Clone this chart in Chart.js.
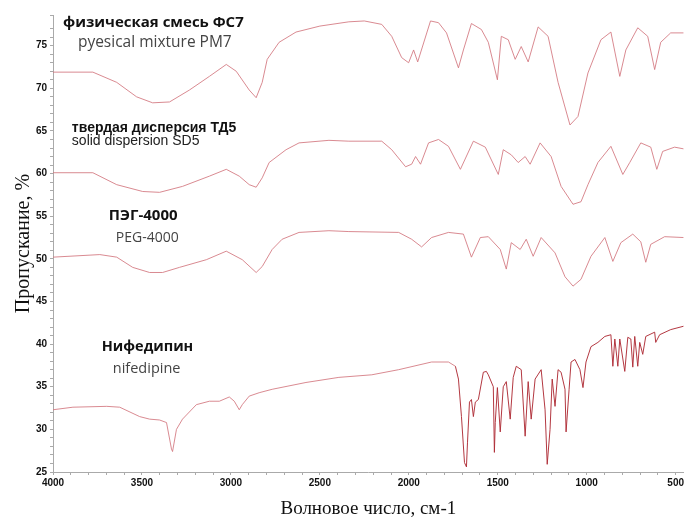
<!DOCTYPE html>
<html>
<head>
<meta charset="utf-8">
<script src="https://cdn.jsdelivr.net/npm/chart.js@4.4.1/dist/chart.umd.min.js"></script>
<style>
  html, body { margin: 0; padding: 0; background: #fff; }
  #wrap { width: 686px; height: 520px; }
</style>
</head>
<body>
<div id="wrap"><canvas id="ir" width="686" height="520"></canvas></div>
<script>
// wavenumbers (cm-1) and transmittance (%)
const wnPM7 = [4000, 3776, 3642, 3530, 3440, 3345, 3233, 3121, 3026, 2970, 2897, 2858, 2824, 2796, 2729, 2634, 2500, 2337, 2250, 2152, 2096, 2040, 2001, 1973, 1950, 1878, 1833, 1788, 1721, 1693, 1648, 1592, 1553, 1502, 1480, 1441, 1402, 1368, 1329, 1273, 1217, 1161, 1094, 1049, 993, 920, 864, 814, 780, 713, 657, 618, 584, 528, 455];
const tPM7 = [71.9, 71.9, 70.7, 69.0, 68.3, 68.4, 69.8, 71.4, 72.8, 72.0, 69.8, 68.9, 70.7, 73.4, 75.4, 76.6, 77.3, 77.8, 77.9, 77.5, 76.1, 73.6, 73.0, 74.5, 73.1, 77.9, 77.7, 76.5, 72.4, 74.5, 77.6, 76.9, 75.4, 71.0, 76.1, 75.7, 73.4, 74.9, 73.1, 77.2, 76.1, 70.7, 65.7, 66.7, 71.8, 75.7, 76.6, 71.4, 74.5, 77.1, 76.1, 72.2, 75.4, 76.5, 76.5];

const wnSD5 = [4000, 3776, 3642, 3496, 3401, 3272, 3121, 3026, 2953, 2897, 2858, 2824, 2785, 2690, 2617, 2449, 2337, 2152, 2096, 2018, 1984, 1962, 1934, 1889, 1833, 1777, 1710, 1637, 1570, 1497, 1469, 1424, 1385, 1346, 1318, 1262, 1200, 1144, 1077, 1032, 993, 937, 864, 797, 758, 696, 640, 606, 573, 506, 455];
const tSD5 = [60.1, 60.1, 58.7, 57.9, 57.8, 58.5, 59.7, 60.5, 59.7, 58.7, 58.4, 59.5, 61.3, 62.8, 63.6, 63.9, 63.8, 63.8, 62.8, 60.8, 61.1, 62.0, 61.1, 63.6, 64.0, 63.2, 60.5, 63.8, 63.1, 59.9, 62.8, 62.2, 61.3, 62.0, 61.1, 63.6, 62.0, 58.5, 56.4, 56.7, 58.7, 61.3, 63.2, 59.9, 61.3, 63.6, 63.1, 60.5, 62.6, 63.1, 62.9];

const wnPEG = [4000, 3737, 3642, 3552, 3457, 3384, 3289, 3138, 3026, 2936, 2858, 2824, 2768, 2712, 2617, 2449, 2337, 2057, 1984, 1928, 1872, 1777, 1693, 1648, 1598, 1553, 1486, 1452, 1424, 1374, 1340, 1301, 1256, 1178, 1122, 1077, 1032, 976, 898, 853, 808, 741, 696, 668, 640, 562, 455];
const tPEG = [50.2, 50.5, 50.2, 49.0, 48.4, 48.4, 49.0, 49.9, 50.9, 49.9, 48.4, 49.1, 51.1, 52.3, 53.1, 53.3, 53.2, 53.1, 52.3, 51.4, 52.5, 53.1, 52.9, 50.2, 52.5, 52.6, 51.1, 48.8, 51.9, 51.1, 52.3, 50.3, 52.5, 50.7, 47.9, 46.8, 47.6, 50.3, 52.5, 49.7, 51.9, 52.9, 52.0, 49.6, 51.7, 52.6, 52.5];

const wnNif = [4000, 3888, 3698, 3625, 3513, 3457, 3401, 3362, 3334, 3328, 3306, 3272, 3194, 3121, 3065, 3009, 2981, 2953, 2936, 2897, 2841, 2768, 2578, 2393, 2208, 2057, 1872, 1777, 1738, 1721, 1704, 1687, 1676, 1670, 1659, 1648, 1637, 1626, 1609, 1581, 1564, 1553, 1525, 1519, 1514, 1502, 1486, 1469, 1452, 1430, 1413, 1396, 1368, 1346, 1329, 1312, 1290, 1256, 1234, 1222, 1206, 1194, 1178, 1161, 1144, 1122, 1116, 1099, 1088, 1066, 1038, 1021, 1004, 976, 937, 898, 864, 853, 842, 825, 814, 786, 769, 752, 741, 730, 713, 702, 685, 668, 618, 612, 590, 528, 455];
const tNif = [32.3, 32.6, 32.7, 32.6, 31.5, 31.2, 31.1, 30.8, 27.7, 27.4, 30.0, 31.2, 32.9, 33.3, 33.3, 33.8, 33.3, 32.3, 32.9, 33.9, 34.3, 34.7, 35.5, 36.1, 36.4, 37.0, 37.9, 37.9, 37.4, 35.9, 31.5, 26.1, 25.6, 28.5, 33.2, 33.5, 31.5, 33.2, 33.5, 36.7, 36.8, 36.4, 35.0, 27.3, 30.8, 34.9, 29.7, 35.0, 35.6, 31.2, 36.1, 37.4, 37.0, 29.2, 35.6, 31.2, 35.9, 37.0, 32.3, 25.9, 30.0, 35.9, 32.7, 37.0, 36.7, 34.7, 29.7, 34.7, 37.9, 38.2, 37.0, 34.9, 37.9, 39.7, 40.2, 40.9, 41.1, 37.4, 40.6, 37.4, 40.6, 36.8, 40.8, 40.6, 37.3, 40.9, 37.4, 40.2, 38.8, 40.9, 41.4, 40.2, 41.1, 41.7, 42.1];

// sample captions: bold Russian name, plain English name under it
const capText = ["физическая смесь ФС7", "pyesical mixture PM7", "твердая дисперсия ТД5", "solid dispersion SD5", "ПЭГ-4000", "PEG-4000", "Нифедипин", "nifedipine"];
const capWn = [3944, 3860, 3894, 3894, 3686, 3647, 3726, 3664];
const capT = [77.7, 75.35, 65.3, 63.75, 55.0, 52.4, 39.7, 37.15];
const capFont = ["bold 15px 'Open Sans'", "15.5px 'Open Sans'", "bold 14px 'Liberation Sans'", "14px 'Liberation Sans'", "bold 15px 'Open Sans'", "14px 'Open Sans'", "bold 14.5px 'Open Sans'", "14.5px 'Open Sans'"];
const capColor = ["#111", "#444", "#111", "#222", "#111", "#444", "#111", "#444"];

function toXY(wn, t) {
  return wn.map((w, i) => ({ x: w, y: t[i] }));
}

const captions = {
  id: "captions",
  afterDatasetsDraw(chart) {
    const ctx = chart.ctx;
    const xs = chart.scales.x;
    const ys = chart.scales.y;
    ctx.save();
    ctx.textAlign = "left";
    ctx.textBaseline = "middle";
    for (let i = 0; i < capText.length; i++) {
      ctx.font = capFont[i];
      ctx.fillStyle = capColor[i];
      ctx.fillText(capText[i], xs.getPixelForValue(capWn[i]), ys.getPixelForValue(capT[i]));
    }
    ctx.restore();
  }
};

const pink = "rgba(210,118,126,0.85)";
const darkRed = "rgba(175,45,55,0.95)";
const tickFont = { family: "'Liberation Sans Narrow', 'Liberation Sans'", size: 10, weight: "bold" };

function line(data, color) {
  return { data: data, borderColor: color, borderWidth: 1, pointRadius: 0, tension: 0, fill: false };
}

// nifedipine: pale over the smooth part, dark red in the fingerprint region
const nif = line(toXY(wnNif, tNif), pink);
nif.segment = { borderColor: (c) => (c.p0.parsed.x < 1760 ? darkRed : pink) };

new Chart(document.getElementById("ir"), {
  type: "line",
  plugins: [captions],
  data: {
    datasets: [
      line(toXY(wnPM7, tPM7), pink),
      line(toXY(wnSD5, tSD5), pink),
      line(toXY(wnPEG, tPEG), pink),
      nif
    ]
  },
  options: {
    responsive: false,
    animation: false,
    layout: { padding: { top: 15, right: 0, left: 0, bottom: 0 } },
    plugins: { legend: { display: false }, tooltip: { enabled: false } },
    scales: {
      x: {
        type: "linear",
        reverse: true,
        min: 455,
        max: 4000,
        afterFit: (s) => { s.height = 48; },
        afterBuildTicks: (s) => {
          const t = [];
          for (let v = 4000; v >= 500; v -= 100) t.push({ value: v });
          s.ticks = t;
        },
        border: { color: "#aaa", width: 1 },
        grid: { drawOnChartArea: false, color: "#aaa", tickLength: 3 },
        ticks: {
          autoSkip: false,
          maxRotation: 0,
          color: "#111",
          font: tickFont,
          padding: 2,
          callback: (v) => (v % 500 === 0 ? String(v) : "")
        },
        title: {
          display: true,
          text: "Волновое число, см-1",
          color: "#111",
          font: { family: "'Liberation Serif'", size: 19 },
          padding: 0
        }
      },
      y: {
        min: 25,
        max: 78.6,
        afterFit: (s) => { s.width = 53; },
        border: { color: "#aaa", width: 1 },
        grid: { drawOnChartArea: false, color: "#aaa", tickLength: 3 },
        ticks: {
          stepSize: 1,
          autoSkip: false,
          color: "#111",
          font: tickFont,
          padding: 3,
          callback: (v) => (v % 5 === 0 ? String(v) : "")
        },
        title: {
          display: true,
          text: "Пропускание, %",
          color: "#111",
          font: { family: "'Liberation Serif'", size: 20 },
          padding: { top: 12, bottom: 0 }
        }
      }
    }
  }
});
</script>
</body>
</html>
